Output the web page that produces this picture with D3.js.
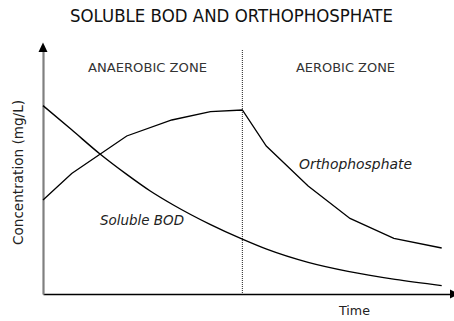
<!DOCTYPE html>
<html>
<head>
<meta charset="utf-8">
<script src="https://cdn.jsdelivr.net/npm/d3@7"></script>
<style>
  html, body { margin: 0; padding: 0; background: #fff; }
  svg { display: block; }
  text { font-family: "DejaVu Sans", sans-serif; }
</style>
</head>
<body>
<svg id="chart" width="454" height="321"></svg>
<script>
// Orthophosphate: piecewise series (time, mg/L)
const orthoTime  = [0, 0.72, 2.1, 3.23, 4.2, 5.0, 5.6, 6.65, 7.7, 8.8, 10];
const orthoConc  = [4.7, 6.03, 7.9, 8.7, 9.12, 9.2, 7.4, 5.4, 3.78, 2.78, 2.3];

// Soluble BOD: smooth decaying series (time, mg/L)
const bodTime = [0, 0.72, 1.43, 2.1, 2.69, 3.27, 4.19, 5.0, 5.61, 6.65, 7.65, 8.83, 10];
const bodConc = [9.42, 8.21, 7.0, 5.98, 5.15, 4.45, 3.48, 2.74, 2.24, 1.58, 1.13, 0.73, 0.42];

// Zone boundary and labels
const zoneBoundary = 5;
const zoneLabels = ["ANAEROBIC ZONE", "AEROBIC ZONE"];
const seriesLabels = ["Soluble BOD", "Orthophosphate"];
const titleText = "SOLUBLE BOD AND ORTHOPHOSPHATE";
const xTitle = "Time";
const yTitle = "Concentration (mg/L)";

const svg = d3.select("#chart");

const x = d3.scaleLinear().domain([0, 10]).range([43, 441.7]);
const y = d3.scaleLinear().domain([0, 12.5]).range([294, 44]);

// fit a text element to a given width
function fit(sel, w) {
  sel.attr("textLength", w).attr("lengthAdjust", "spacingAndGlyphs");
  return sel;
}

// Title
fit(svg.append("text")
  .attr("x", 70).attr("y", 22)
  .attr("font-size", 17.5)
  .attr("fill", "#111")
  .text(titleText), 323);

// Zone boundary (dotted)
svg.append("line")
  .attr("x1", x(zoneBoundary)).attr("x2", x(zoneBoundary))
  .attr("y1", 50).attr("y2", y(0))
  .attr("stroke", "#222").attr("stroke-width", 1)
  .attr("stroke-dasharray", "1,1");

// Zone labels
fit(svg.append("text").attr("x", 88).attr("y", 72).attr("font-size", 12.5)
  .attr("fill", "#333").text(zoneLabels[0]), 119);
fit(svg.append("text").attr("x", 296).attr("y", 72).attr("font-size", 12.5)
  .attr("fill", "#333").text(zoneLabels[1]), 99);

// Axes (no ticks; the domain line only)
const xAxisScale = x.copy().domain([0, x.invert(451)]).range([43, 451]);
const gx = svg.append("g")
  .attr("transform", `translate(0,${y(0)})`)
  .call(d3.axisBottom(xAxisScale).tickValues([]).tickSizeOuter(0));
gx.select(".domain").attr("stroke", "#000").attr("stroke-width", 1.6);

const yAxisScale = y.copy().domain([0, y.invert(50)]).range([294, 50]);
const gy = svg.append("g")
  .attr("transform", `translate(${x(0)},0)`)
  .call(d3.axisLeft(yAxisScale).tickValues([]).tickSizeOuter(0));
gy.select(".domain").attr("stroke", "#808080").attr("stroke-width", 2.2);

// Arrow heads
svg.append("path")
  .attr("d", `M${x(0)},42.5 L${x(0) - 4.5},52 L${x(0) + 4.5},52 Z`)
  .attr("fill", "#000");
svg.append("path")
  .attr("d", `M459,${y(0)} L450,${y(0) - 4.5} L450,${y(0) + 4.5} Z`)
  .attr("fill", "#000");

// Series lines
const orthoData = orthoTime.map((t, i) => [t, orthoConc[i]]);
const bodData = bodTime.map((t, i) => [t, bodConc[i]]);

svg.append("path")
  .datum(orthoData)
  .attr("fill", "none").attr("stroke", "#000").attr("stroke-width", 1.3)
  .attr("d", d3.line().x(d => x(d[0])).y(d => y(d[1])));

svg.append("path")
  .datum(bodData)
  .attr("fill", "none").attr("stroke", "#000").attr("stroke-width", 1.4)
  .attr("d", d3.line().curve(d3.curveMonotoneX).x(d => x(d[0])).y(d => y(d[1])));

// Series labels
fit(svg.append("text").attr("x", 100).attr("y", 225).attr("font-size", 13.5)
  .attr("font-style", "italic").attr("fill", "#222").text(seriesLabels[0]), 84);
fit(svg.append("text").attr("x", 299).attr("y", 169).attr("font-size", 13.5)
  .attr("font-style", "italic").attr("fill", "#222").text(seriesLabels[1]), 113);

// Axis titles
fit(svg.append("text").attr("x", 339).attr("y", 315).attr("font-size", 13)
  .attr("fill", "#222").text(xTitle), 31);
fit(svg.append("text")
  .attr("transform", "translate(23,245) rotate(-90)")
  .attr("font-size", 13.5).attr("fill", "#222").text(yTitle), 145);
</script>
</body>
</html>
